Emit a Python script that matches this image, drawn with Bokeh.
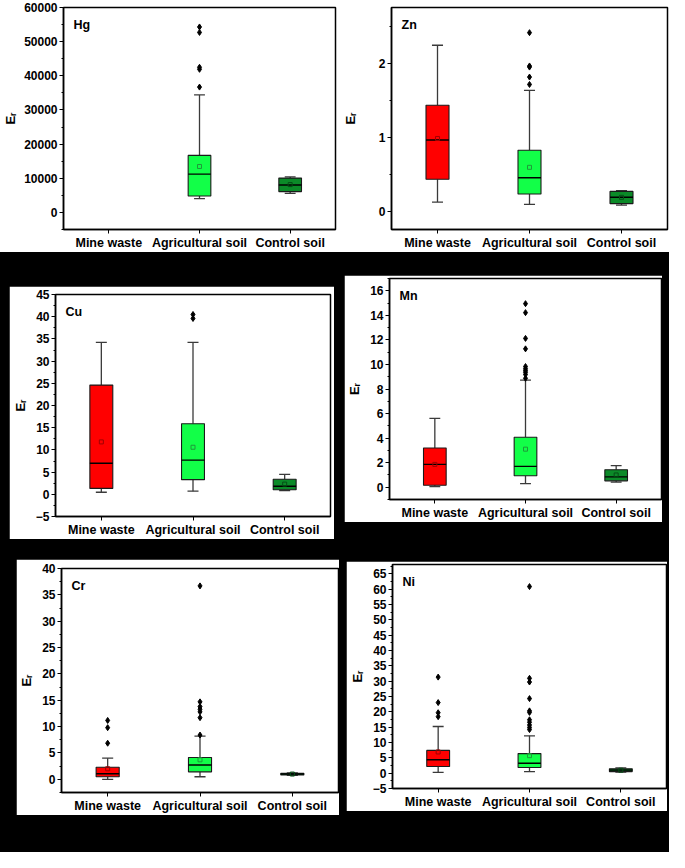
import math
from bokeh.plotting import figure
from bokeh.layouts import row, column
from bokeh.models import Spacer, Label, FixedTicker, SingleIntervalTicker, Range1d, ColumnDataSource
from bokeh.embed import file_html
from bokeh.resources import INLINE

nan = float("nan")
categories = ["Mine waste", "Agricultural soil", "Control soil"]

# ---- Hg ----
hg_q1 = [nan, 4800, 6100]
hg_med = [nan, 11200, 8050]
hg_q3 = [nan, 16700, 10050]
hg_lo = [nan, 4050, 5600]
hg_hi = [nan, 34400, 10400]
hg_mean = [nan, 13450, 8150]
hg_out = [[], [54300, 52700, 42500, 41900, 36700], []]

# ---- Zn ----
zn_q1 = [0.43, 0.23, 0.10]
zn_med = [0.96, 0.45, 0.185]
zn_q3 = [1.43, 0.82, 0.265]
zn_lo = [0.12, 0.09, 0.08]
zn_hi = [2.24, 1.63, 0.275]
zn_mean = [0.98, 0.59, 0.185]
zn_out = [[], [2.41, 1.96, 1.945, 1.81, 1.71], []]

# ---- Cu ----
cu_q1 = [1.33, 3.3, 1.04]
cu_med = [7.0, 7.7, 1.8]
cu_q3 = [24.6, 15.9, 3.4]
cu_lo = [0.46, 0.7, 0.85]
cu_hi = [34.2, 34.2, 4.5]
cu_mean = [11.8, 10.6, 2.3]
cu_out = [[], [40.5, 39.6], []]

# ---- Mn ----
mn_q1 = [0.16, 0.94, 0.52]
mn_med = [1.86, 1.70, 0.84]
mn_q3 = [3.2, 4.07, 1.42]
mn_lo = [0.05, 0.29, 0.42]
mn_hi = [5.61, 8.73, 1.76]
mn_mean = [1.86, 3.10, 1.0]
mn_out = [[], [14.95, 14.22, 12.12, 11.27, 9.83, 9.65, 9.5, 9.36, 9.18, 8.87], []]

# ---- Cr ----
cr_q1 = [0.49, 1.42, 0.82]
cr_med = [1.05, 2.72, 1.0]
cr_q3 = [2.28, 4.14, 1.15]
cr_lo = [0.0, 0.49, 0.75]
cr_hi = [4.01, 8.2, 1.2]
cr_mean = [2.0, 3.7, 1.0]
cr_out = [[11.17, 9.8, 6.85], [36.7, 14.7, 13.8, 13.3, 12.8, 11.7, 8.4], []]

# ---- Ni ----
ni_q1 = [2.16, 1.84, 0.5]
ni_med = [4.37, 3.21, 1.0]
ni_q3 = [7.42, 6.37, 1.4]
ni_lo = [0.26, 0.47, 0.35]
ni_hi = [15.2, 12.16, 1.7]
ni_mean = [6.9, 5.7, 0.95]
ni_out = [[31.3, 23.0, 19.7, 18.4],
          [60.8, 30.9, 29.7, 24.3, 20.3, 19.8, 17.4, 16.6, 15.7, 14.9, 14.2], []]

FONT = "Liberation Sans"
FILLS = ["#ff0000", "#12ff48", "#0b8a28"]
MEAN_LINES = ["#a00000", "#1f9a3a", "#064d16"]
BOX_W = 0.25
CAP_HALF = 0.06


def panel(name, q1, med, q3, lo, hi, mean, outs, yr, interval, w, h, mb,
          label_standoff=5):
    mbl, mbt, mbr, mbb = mb
    p = figure(width=w, height=h, x_range=Range1d(0.5, 3.5), y_range=Range1d(*yr),
               output_backend="svg", toolbar_location=None,
               min_border_left=mbl, min_border_top=mbt, min_border_right=mbr,
               min_border_bottom=mbb, background_fill_color="white",
               border_fill_color="white")
    p.grid.visible = False
    p.outline_line_color = "black"
    p.outline_line_width = 1.5
    p.outline_line_alpha = 1.0

    xs = list(range(1, len(categories) + 1))
    idx = [i for i in range(len(categories)) if not math.isnan(q1[i])]
    src = ColumnDataSource(dict(
        x=[xs[i] for i in idx],
        q1=[q1[i] for i in idx], med=[med[i] for i in idx], q3=[q3[i] for i in idx],
        lo=[lo[i] for i in idx], hi=[hi[i] for i in idx], mean=[mean[i] for i in idx],
        fill=[FILLS[i] for i in idx], mline=[MEAN_LINES[i] for i in idx],
        xl=[xs[i] - BOX_W / 2 for i in idx], xr=[xs[i] + BOX_W / 2 for i in idx],
        cl=[xs[i] - CAP_HALF for i in idx], cr=[xs[i] + CAP_HALF for i in idx],
    ))
    wcol = "#3a3a3a"
    p.segment(x0="x", y0="q3", x1="x", y1="hi", source=src, line_color=wcol, line_width=1.3)
    p.segment(x0="x", y0="q1", x1="x", y1="lo", source=src, line_color=wcol, line_width=1.3)
    p.segment(x0="cl", y0="hi", x1="cr", y1="hi", source=src, line_color=wcol, line_width=1.3)
    p.segment(x0="cl", y0="lo", x1="cr", y1="lo", source=src, line_color=wcol, line_width=1.3)
    p.vbar(x="x", width=BOX_W, top="q3", bottom="q1", source=src,
           fill_color="fill", line_color="#1a1a1a", line_width=1.1)
    p.segment(x0="xl", y0="med", x1="xr", y1="med", source=src,
              line_color="black", line_width=1.4)
    p.scatter(x="x", y="mean", source=src, marker="square", size=4,
              fill_alpha=0, line_color="mline", line_width=1)

    ox, oy = [], []
    for i, vals in enumerate(outs):
        for v in vals:
            ox.append(xs[i])
            oy.append(v)
    if ox:
        p.scatter(x=ox, y=oy, marker="diamond", size=6, color="black")

    # axes
    xa = p.xaxis[0]
    xa.ticker = FixedTicker(ticks=xs)
    xa.major_label_overrides = {x: c for x, c in zip(xs, categories)}
    xa.minor_tick_line_color = None
    xa.major_tick_out = 4
    xa.major_tick_in = 0
    xa.major_label_standoff = 2
    xa.major_label_text_font = FONT
    xa.major_label_text_font_style = "bold"
    xa.major_label_text_font_size = "12.5px"
    xa.major_label_text_color = "black"
    xa.axis_line_width = 1.5
    xa.axis_line_color = "black"

    ya = p.yaxis[0]
    ya.ticker = SingleIntervalTicker(interval=interval, num_minor_ticks=2)
    ya.major_tick_out = 4
    ya.major_tick_in = 0
    ya.minor_tick_out = 2
    ya.minor_tick_in = 0
    ya.major_label_standoff = 2
    ya.major_label_text_font = FONT
    ya.major_label_text_font_style = "bold"
    ya.major_label_text_font_size = "12px"
    ya.major_label_text_color = "black"
    ya.axis_line_width = 1.5
    ya.axis_line_color = "black"
    ya.axis_label = "E\u1d63"
    ya.axis_label_text_font = FONT
    ya.axis_label_text_font_style = "bold"
    ya.axis_label_text_font_size = "13px"
    ya.axis_label_text_color = "black"
    ya.axis_label_standoff = label_standoff

    p.add_layout(Label(x=0.5, y=yr[1], x_offset=10, y_offset=-10, text=name,
                       text_font=FONT, text_font_style="bold", text_font_size="12.5px",
                       text_baseline="top", text_align="left", text_color="black"))
    return p


hg = panel("Hg", hg_q1, hg_med, hg_q3, hg_lo, hg_hi, hg_mean, hg_out,
           (-5000, 60000), 10000, 339, 252, (58, 7, 4, 21), label_standoff=3)
zn = panel("Zn", zn_q1, zn_med, zn_q3, zn_lo, zn_hi, zn_mean, zn_out,
           (-0.25, 2.75), 1, 330, 252, (46, 5, 2, 23), label_standoff=18)
cu = panel("Cu", cu_q1, cu_med, cu_q3, cu_lo, cu_hi, cu_mean, cu_out,
           (-5, 45), 5, 325, 253, (40, 8, 4, 20))
mn = panel("Mn", mn_q1, mn_med, mn_q3, mn_lo, mn_hi, mn_mean, mn_out,
           (-1, 17), 2, 318, 247, (38, 3, 1, 20))
cr = panel("Cr", cr_q1, cr_med, cr_q3, cr_lo, cr_hi, cr_mean, cr_out,
           (-2.5, 40), 5, 323, 256, (41, 9, 1, 21))
ni = panel("Ni", ni_q1, ni_med, ni_q3, ni_lo, ni_hi, ni_mean, ni_out,
           (-5, 68), 5, 321, 250, (40, 3, 1, 20))

BLK = {"background-color": "black"}


def blk(w, h):
    return Spacer(width=w, height=h, styles=BLK)


row1 = row(hg, zn, styles={"background-color": "white"})
row2 = row(blk(9, 298), column(blk(325, 34), cu, blk(325, 11), styles=BLK),
           blk(10, 298), column(blk(318, 23), mn, blk(318, 28), styles=BLK),
           blk(7, 298), styles=BLK)
row3 = row(blk(16, 302), column(blk(323, 9), cr, blk(323, 37), styles=BLK),
           blk(7, 302), column(blk(321, 11), ni, blk(321, 41), styles=BLK),
           blk(2, 302), styles=BLK)
p = column(row1, row2, row3)

open("out.html", "w").write(file_html(p, INLINE))
